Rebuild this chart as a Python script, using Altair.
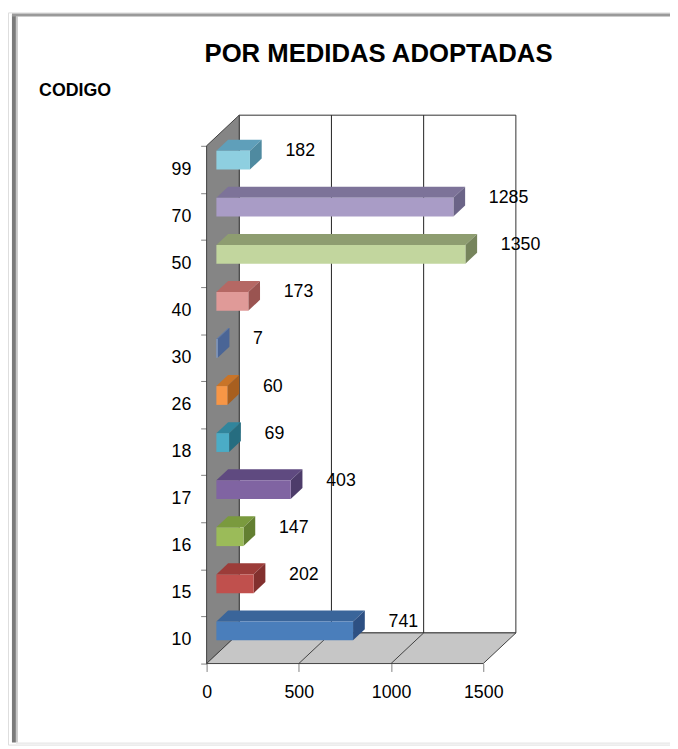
import altair as alt
import pandas as pd

# ---- data ----
codes = ["10", "15", "16", "17", "18", "26", "30", "40", "50", "70", "99"]
values = [741, 202, 147, 403, 69, 60, 7, 173, 1350, 1285, 182]
x_ticks = [0, 500, 1000, 1500]

# ---- styles ----
front_col = ["#4a7ebb", "#c0504d", "#9bbb59", "#8064a2", "#4bacc6", "#f79646",
             "#7f9ccc", "#e09a98", "#c2d69e", "#a99cc6", "#8ecfe0"]
top_col = ["#3a659a", "#9c3c39", "#7a9a3e", "#5f4a80", "#31859c", "#c97428",
           "#5b7ab0", "#b56864", "#8e9d70", "#7d7399", "#5f9fba"]
side_col = ["#2d5083", "#82302e", "#637f31", "#4d3c6a", "#266d80", "#a85f1f",
            "#4a6596", "#9a5451", "#76845c", "#6b6487", "#4f8aa0"]
FONT = "Liberation Sans"

# ---- geometry (pixels) ----
W, H_ = 670, 741                 # plot area
PXV = 280 / 1500                 # px per value unit
SL = 524 / 11                    # px per category slot
X0 = 201                         # local px of value 0
Y0 = 659                         # local px of slot 0 (front floor)
NS = len(codes)
XMAX = 1500
DX = 33 / PXV                    # depth in value units
DY = 31 / SL                     # depth in slot units
F1, F2 = 0.3, 0.66               # bar depth fractions
BH = 19 / SL                     # bar thickness (slots)

xs = alt.Scale(domain=[-X0 / PXV, (W - X0) / PXV], nice=False, zero=False)
ys = alt.Scale(domain=[(Y0 - H_) / SL, Y0 / SL], nice=False, zero=False)

xaxis = alt.Axis(values=x_ticks, grid=False, domain=False, tickSize=8,
                 tickColor="#808080", labelFont=FONT, labelFontSize=18,
                 labelColor="black", labelPadding=12, offset=-(H_ - Y0),
                 format="d", title=None, orient="bottom")
lab_arr = "[" + ",".join("'%s'" % c for c in codes) + "]"
yaxis = alt.Axis(values=list(range(NS + 1)), grid=False, domain=False,
                 tickSize=6, tickColor="#808080", labelFont=FONT,
                 labelFontSize=18, labelColor="black", labelPadding=10,
                 labelOffset=-SL / 2, labelExpr=f"datum.value < {NS} ? {lab_arr}[datum.value] : ''",
                 offset=-X0, orient="left", title="CODIGO", titleAngle=0,
                 titleFont=FONT, titleFontSize=18, titleFontWeight="bold",
                 titleColor="black", titleAlign="left", titleBaseline="alphabetic",
                 titleX=31 - X0, titleY=84)


def X(f):
    return alt.X(f, type="quantitative", scale=xs, axis=xaxis)


def Y(f):
    return alt.Y(f, type="quantitative", scale=ys, axis=yaxis, stack=None)


# ---- walls ----
back = pd.DataFrame([{"x": DX, "x2": XMAX + DX, "y": DY, "y2": NS + DY}])
back_l = alt.Chart(back).mark_rect(fill="white", stroke="#303030", strokeWidth=1).encode(
    x=X("x"), x2="x2", y=Y("y"), y2="y2")

leftw = pd.DataFrame([{"k": 0, "lo": 0, "hi": NS}, {"k": DX, "lo": DY, "hi": NS + DY}])
left_l = alt.Chart(leftw).mark_area(orient="vertical", fill="#858585", stroke="#404040",
                                    strokeWidth=1).encode(x=X("k"), y=Y("lo"), y2="hi")

floor = pd.DataFrame([{"k": 0, "lo": 0, "hi": XMAX}, {"k": DY, "lo": DX, "hi": XMAX + DX}])
floor_l = alt.Chart(floor).mark_area(orient="horizontal", fill="#c6c6c6", stroke="#404040",
                                     strokeWidth=1).encode(y=Y("k"), x=X("lo"), x2="hi")

bgrid = pd.DataFrame([{"x": v + DX, "y": DY, "y2": NS + DY} for v in x_ticks[1:-1]])
bgrid_l = alt.Chart(bgrid).mark_rule(color="#202020", strokeWidth=1).encode(
    x=X("x"), y=Y("y"), y2="y2")

fgrid = pd.DataFrame([{"x": v, "x2": v + DX, "y": 0, "y2": DY} for v in x_ticks[1:-1]])
fgrid_l = alt.Chart(fgrid).mark_rule(color="#404040", strokeWidth=1).encode(
    x=X("x"), x2="x2", y=Y("y"), y2="y2")

# ---- bars ----
tops, sides, fronts, labels = [], [], [], []
for i, (c, v) in enumerate(zip(codes, values)):
    cy = i + 0.5
    for f in (F1, F2):
        tops.append({"cat": c, "k": cy + f * DY + BH / 2, "lo": f * DX, "hi": f * DX + v, "col": top_col[i]})
        sides.append({"cat": c, "k": f * DX + v, "lo": cy + f * DY - BH / 2, "hi": cy + f * DY + BH / 2, "col": side_col[i]})
    fronts.append({"cat": c, "x": F1 * DX, "x2": F1 * DX + v, "y": cy + F1 * DY - BH / 2,
                   "y2": cy + F1 * DY + BH / 2, "col": front_col[i]})
    labels.append({"cat": c, "x": F2 * DX + v, "y": cy + F1 * DY, "t": str(v)})

top_l = alt.Chart(pd.DataFrame(tops)).mark_area(orient="horizontal").encode(
    y=Y("k"), x=X("lo"), x2="hi", detail="cat:N", color=alt.Color("col:N", scale=None))
side_l = alt.Chart(pd.DataFrame(sides)).mark_area(orient="vertical").encode(
    x=X("k"), y=Y("lo"), y2="hi", detail="cat:N", color=alt.Color("col:N", scale=None))
front_l = alt.Chart(pd.DataFrame(fronts)).mark_rect().encode(
    x=X("x"), x2="x2", y=Y("y"), y2="y2", color=alt.Color("col:N", scale=None))
text_l = alt.Chart(pd.DataFrame(labels)).mark_text(
    align="left", baseline="middle", dx=24, dy=-9, font=FONT, fontSize=18, color="black"
).encode(x=X("x"), y=Y("y"), text="t:N")

# ---- frame decoration ----
frame = pd.DataFrame([{"a": 1}])
fl1 = alt.Chart(frame).mark_rule(color="#7a7a7a", strokeWidth=4).encode(
    x=alt.value(6), y=alt.value(2), y2=alt.value(739))
fl2 = alt.Chart(frame).mark_rule(color="#c8c8c8", strokeWidth=2).encode(
    x=alt.value(9), y=alt.value(4), y2=alt.value(739))
ft1 = alt.Chart(frame).mark_rule(color="#9a9a9a", strokeWidth=3).encode(
    x=alt.value(4), x2=alt.value(W), y=alt.value(2.5))
fb1 = alt.Chart(frame).mark_rule(color="#e0e0e0", strokeWidth=1).encode(
    x=alt.value(8), x2=alt.value(W), y=alt.value(739.5))

chart = alt.layer(
    back_l, left_l, floor_l, bgrid_l, fgrid_l, top_l, side_l, front_l, text_l,
    fl1, fl2, ft1, fb1
).properties(
    width=W, height=H_,
    title=alt.Title("POR MEDIDAS ADOPTADAS", font=FONT, fontSize=26, fontWeight="bold",
                    color="black", anchor="middle", dx=40, dy=76, offset=0,
                    baseline="alphabetic"),
    autosize=alt.AutoSizeParams(type="none"),
    padding=0,
).configure_view(stroke=None).configure(background="white")

chart.save("out.html", embed_options={"renderer": "svg", "actions": False})
